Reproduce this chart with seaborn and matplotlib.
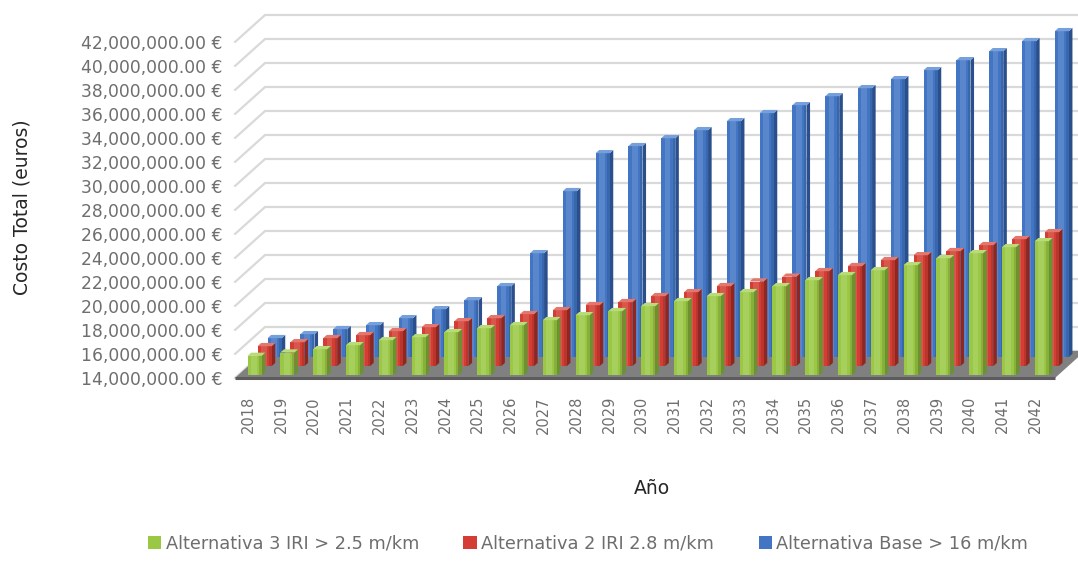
import matplotlib
matplotlib.use("Agg")
import matplotlib.pyplot as plt
from matplotlib.patches import Polygon, Patch
import numpy as np
import pandas as pd
import seaborn as sns

# ---- data (millions of euros) ----
years = ["2018", "2019", "2020", "2021", "2022", "2023", "2024", "2025", "2026",
         "2027", "2028", "2029", "2030", "2031", "2032", "2033", "2034", "2035",
         "2036", "2037", "2038", "2039", "2040", "2041", "2042"]
alt3 = [15.60, 15.88, 16.16, 16.49, 16.91, 17.16, 17.58, 17.91, 18.16, 18.58,
        18.99, 19.33, 19.74, 20.16, 20.58, 20.91, 21.41, 21.91, 22.33, 22.74,
        23.16, 23.74, 24.16, 24.66, 25.16]
alt2 = [15.66, 15.99, 16.33, 16.58, 16.91, 17.24, 17.74, 17.99, 18.33, 18.66,
        19.08, 19.33, 19.83, 20.16, 20.66, 21.05, 21.45, 21.91, 22.33, 22.83,
        23.24, 23.58, 24.08, 24.58, 25.16]
base = [15.58, 15.91, 16.33, 16.66, 17.24, 17.99, 18.74, 19.91, 22.66, 27.83,
        30.99, 31.58, 32.24, 32.91, 33.66, 34.33, 34.99, 35.74, 36.41, 37.16,
        37.91, 38.74, 39.49, 40.33, 41.16]
series_names = ["Alternativa 3 IRI > 2.5 m/km",
                "Alternativa 2 IRI 2.8 m/km",
                "Alternativa Base > 16 m/km"]
y_ticks = [14, 16, 18, 20, 22, 24, 26, 28, 30, 32, 34, 36, 38, 40, 42]

# ---- styling ----
front_colors = ["#9ac845", "#d43d33", "#4276c4"]
side_colors = ["#6a9330", "#8f261f", "#2a4f8c"]
top_colors = ["#b8dc78", "#e3776d", "#75a0dc"]
text_gray = "#6e6e6e"
grid_gray = "#d9d9d9"

sns.set_theme(style="white")
plt.rcParams["font.family"] = ["DejaVu Sans"]

W, H = 1078, 575
fig = plt.figure(figsize=(W / 100, H / 100), dpi=100)
fig.patch.set_facecolor("white")

# front plane of the 3-D box (pixel geometry of the plot area)
left_px, right_px, floor_px, top_px = 235, 1055, 378, 42
ax = fig.add_axes([left_px / W, (H - floor_px) / H,
                   (right_px - left_px) / W, (floor_px - top_px) / H])

df = pd.DataFrame({
    "Año": years * 3,
    "Serie": np.repeat(series_names, len(years)),
    "Costo": np.concatenate([alt3, alt2, base]) * 1e6,
})

bar_w = 0.43
sns.barplot(data=df, x="Año", y="Costo", hue="Serie", hue_order=series_names,
            palette=front_colors, dodge=False, width=bar_w, saturation=1,
            errorbar=None, legend=False, ax=ax)

Y0, Y1 = y_ticks[0] * 1e6, y_ticks[-1] * 1e6
ncat = len(years)
ax.set_xlim(-0.5, ncat - 0.5)
ax.set_ylim(Y0, Y1)

# depth direction of the box, converted from pixels to data units
px_per_cat = (right_px - left_px) / ncat
px_per_eur = (floor_px - top_px) / (Y1 - Y0)
depth_px = (30.0, 27.0)
dxc = depth_px[0] / px_per_cat
dye = depth_px[1] / px_per_eur

# back wall gridlines and left wall gridlines
for t in y_ticks:
    yv = t * 1e6
    ax.plot([-0.5 + dxc, ncat - 0.5 + dxc], [yv + dye, yv + dye], color=grid_gray,
            lw=1.6, zorder=0.2, clip_on=False, solid_capstyle="butt")
    ax.plot([-0.5, -0.5 + dxc], [yv, yv + dye], color=grid_gray,
            lw=1.6, zorder=0.2, clip_on=False)

# floor
floor = Polygon([(-0.5, Y0), (ncat - 0.5, Y0), (ncat - 0.5 + dxc, Y0 + dye),
                 (-0.5 + dxc, Y0 + dye)], closed=True, facecolor="#808080",
                edgecolor="none", zorder=0.5, clip_on=False)
ax.add_patch(floor)
ax.plot([-0.5, ncat - 0.5], [Y0, Y0], color="#5c5c5c", lw=2.2, zorder=0.6,
        clip_on=False, solid_capstyle="butt")

# turn the flat bars into 3-D columns: one depth row per series
half_depth = 0.06
for k, cont in enumerate(ax.containers):
    f = (k + 0.5) / 3 - half_depth
    d = 2 * half_depth
    z = 10 - 3 * k
    for bar in cont:
        val = bar.get_height()
        xl = bar.get_x() + f * dxc
        yb = Y0 + f * dye
        bar.set_x(xl)
        bar.set_y(yb)
        bar.set_height(val - Y0)
        bar.set_zorder(z)
        bar.set_clip_on(False)
        bar.set_edgecolor("none")
        bw = bar.get_width()
        xr = xl + bw
        yt = yb + (val - Y0)
        side = Polygon([(xr, yb), (xr, yt), (xr + d * dxc, yt + d * dye),
                        (xr + d * dxc, yb + d * dye)], closed=True,
                       facecolor=side_colors[k], edgecolor="none",
                       zorder=z - 0.5, clip_on=False)
        top = Polygon([(xl, yt), (xr, yt), (xr + d * dxc, yt + d * dye),
                       (xl + d * dxc, yt + d * dye)], closed=True,
                      facecolor=top_colors[k], edgecolor="none",
                      zorder=z + 0.1, clip_on=False)
        ax.add_patch(side)
        ax.add_patch(top)
        # soft highlight in the middle of the front face, darker right edge
        ax.add_patch(plt.Rectangle((xl + bw * 0.25, yb), bw * 0.4, val - Y0,
                                   facecolor="white", alpha=0.13,
                                   edgecolor="none", zorder=z + 0.05,
                                   clip_on=False))
        ax.add_patch(plt.Rectangle((xl + bw * 0.82, yb), bw * 0.18, val - Y0,
                                   facecolor="black", alpha=0.12,
                                   edgecolor="none", zorder=z + 0.05,
                                   clip_on=False))

# axes decoration
for s in ax.spines.values():
    s.set_visible(False)
ax.grid(False)
ax.set_facecolor("none")
ax.set_xlabel("")
ax.set_ylabel("")
ax.set_yticks([t * 1e6 for t in y_ticks])
ax.set_yticklabels([f"{t * 1e6:,.2f} €" for t in y_ticks])
ax.set_xticks([i - 0.1 for i in range(ncat)])
ax.set_xticklabels(years, rotation=90)
ax.tick_params(axis="y", length=0, pad=9, labelsize=12.3, labelcolor=text_gray)
ax.tick_params(axis="x", length=0, pad=13, labelsize=10.5, labelcolor=text_gray)

fig.text(22 / W, 1 - 207 / H, "Costo Total (euros)", rotation=90,
         ha="center", va="center", fontsize=13.5, color="#262626")
fig.text(652 / W, 1 - 489 / H, "Año", ha="center", va="center",
         fontsize=13.5, color="#262626")

handles = [Patch(facecolor=c, edgecolor="none") for c in front_colors]
fig.legend(handles, series_names, loc="center", bbox_to_anchor=(588 / W, 1 - 544 / H),
           ncol=3, frameon=False, fontsize=12.8, handlelength=0.75,
           handleheight=0.75, handletextpad=0.25, columnspacing=2.5,
           labelcolor=text_gray)

fig.savefig("out.png", dpi=100, facecolor="white")
